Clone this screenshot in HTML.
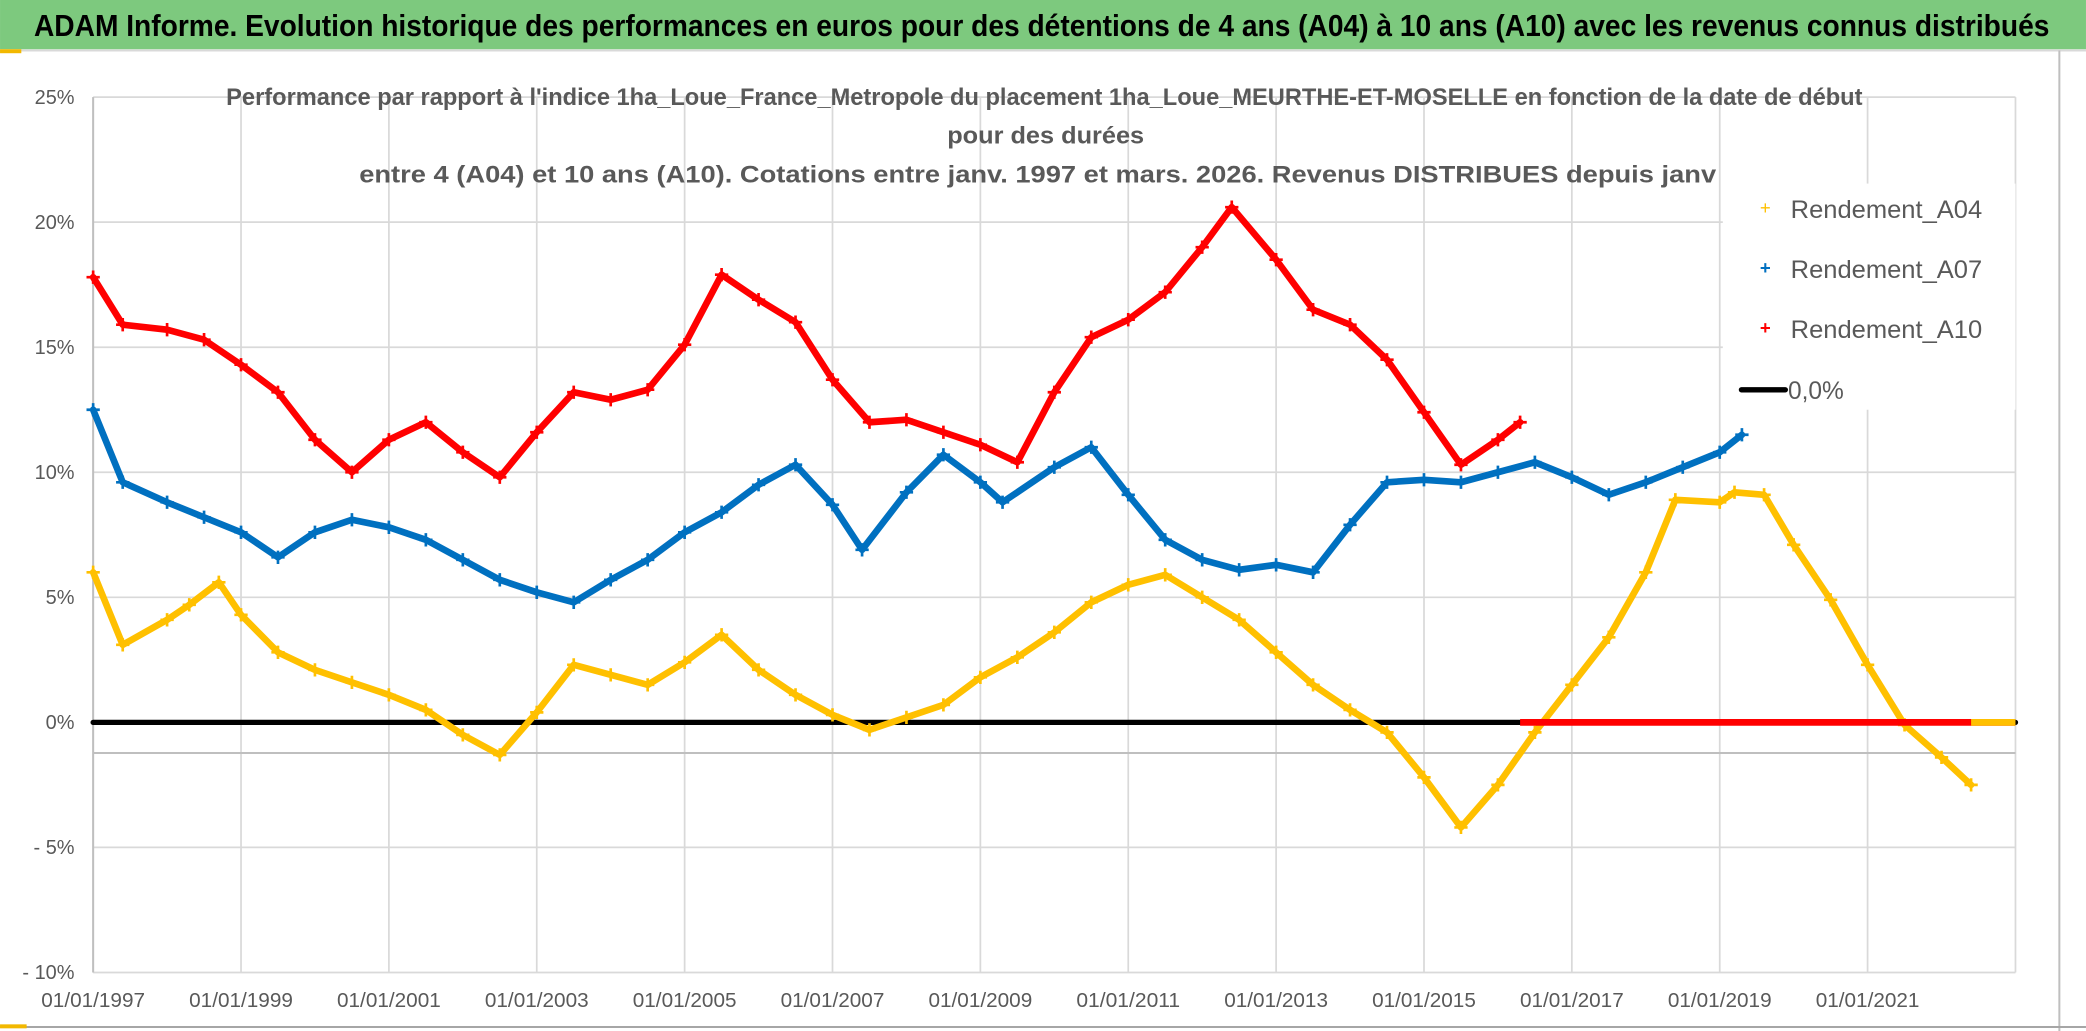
<!DOCTYPE html>
<html><head><meta charset="utf-8"><style>
html,body{margin:0;padding:0;background:#fff;width:2086px;height:1031px;overflow:hidden}
svg{display:block}
text{font-family:"Liberation Sans",sans-serif}
</style></head><body>
<svg id="chart" width="2086" height="1031" viewBox="0 0 1568 775" xmlns="http://www.w3.org/2000/svg">
<rect x="0" y="0" width="1568" height="775" fill="#fff"/>
<rect x="0" y="0" width="1568" height="37" fill="#7dc97e"/>
<line x1="0" y1="38" x2="1568" y2="38" stroke="#d9d9d9" stroke-width="1.5"/>
<rect x="0" y="37" width="16" height="3" fill="#f2b800"/>
<text x="783" y="27" text-anchor="middle" font-size="23" font-weight="bold" fill="#000" textLength="1515" lengthAdjust="spacingAndGlyphs">ADAM Informe. Evolution historique des performances en euros pour des détentions de 4 ans (A04) à 10 ans (A10) avec les revenus connus distribués</text>
<line x1="1548" y1="38" x2="1548" y2="775" stroke="#bfbfbf" stroke-width="1.5"/>
<line x1="0" y1="772" x2="1568" y2="772" stroke="#a6a6a6" stroke-width="1.5"/>
<rect x="0" y="770" width="20" height="3" fill="#f2b800"/>
<g id="grid"></g>
<g id="axes"></g>
<g font-size="18" fill="#595959" font-weight="bold" text-anchor="middle">
<text x="785" y="79" textLength="1230" lengthAdjust="spacingAndGlyphs">Performance par rapport à l'indice 1ha_Loue_France_Metropole  du placement 1ha_Loue_MEURTHE-ET-MOSELLE en fonction de la date de début</text>
<text x="786" y="108" textLength="148" lengthAdjust="spacingAndGlyphs">pour des durées</text>
<text x="780" y="137" textLength="1020" lengthAdjust="spacingAndGlyphs">entre 4 (A04) et 10 ans (A10). Cotations entre janv. 1997 et mars. 2026. Revenus DISTRIBUES depuis janv</text>
</g>
<g id="series"></g>
<g>
<rect x="1295" y="138" width="220" height="170" fill="#fff"/>
<text x="1327" y="161" font-size="14" fill="#ffc000" text-anchor="middle">+</text>
<text x="1346" y="164" font-size="19" fill="#595959" textLength="144" lengthAdjust="spacingAndGlyphs">Rendement_A04</text>
<text x="1327" y="206" font-size="14" fill="#0070c0" text-anchor="middle" font-weight="bold">+</text>
<text x="1346" y="209" font-size="19" fill="#595959" textLength="144" lengthAdjust="spacingAndGlyphs">Rendement_A07</text>
<text x="1327" y="251" font-size="14" fill="#ff0000" text-anchor="middle" font-weight="bold">+</text>
<text x="1346" y="254" font-size="19" fill="#595959" textLength="144" lengthAdjust="spacingAndGlyphs">Rendement_A10</text>
<line x1="1309" y1="293" x2="1342" y2="293" stroke="#000" stroke-width="4" stroke-linecap="round"/>
<text x="1344" y="300" font-size="19" fill="#595959" textLength="42" lengthAdjust="spacingAndGlyphs">0,0%</text>
</g>
</svg>
<script>
const yTicks=[25,20,15,10,5,0,-5,-10];
const yTickLabels=["25%","20%","15%","10%","5%","0%","- 5%","- 10%"];
const xTicks=[1997,1999,2001,2003,2005,2007,2009,2011,2013,2015,2017,2019,2021];
const xTickLabels=["01/01/1997","01/01/1999","01/01/2001","01/01/2003","01/01/2005","01/01/2007","01/01/2009","01/01/2011","01/01/2013","01/01/2015","01/01/2017","01/01/2019","01/01/2021"];
const a04Dates=[1997.0,1997.4,1998.0,1998.3,1998.7,1999.0,1999.5,2000.0,2000.5,2001.0,2001.5,2002.0,2002.5,2003.0,2003.5,2004.0,2004.5,2005.0,2005.5,2006.0,2006.5,2007.0,2007.5,2008.0,2008.5,2009.0,2009.5,2010.0,2010.5,2011.0,2011.5,2012.0,2012.5,2013.0,2013.5,2014.0,2014.5,2015.0,2015.5,2016.0,2016.5,2017.0,2017.5,2018.0,2018.4,2019.0,2019.2,2019.6,2020.0,2020.5,2021.0,2021.5,2022.0,2022.4];
const a04Values=[6.0,3.1,4.1,4.7,5.6,4.3,2.8,2.1,1.6,1.1,0.5,-0.5,-1.3,0.4,2.3,1.9,1.5,2.4,3.5,2.1,1.1,0.3,-0.3,0.2,0.7,1.8,2.6,3.6,4.8,5.5,5.9,5.0,4.1,2.8,1.5,0.5,-0.4,-2.2,-4.2,-2.5,-0.4,1.5,3.4,6.0,8.9,8.8,9.2,9.1,7.1,4.9,2.3,-0.1,-1.4,-2.5];
const a07Dates=[1997.0,1997.4,1998.0,1998.5,1999.0,1999.5,2000.0,2000.5,2001.0,2001.5,2002.0,2002.5,2003.0,2003.5,2004.0,2004.5,2005.0,2005.5,2006.0,2006.5,2007.0,2007.4,2008.0,2008.5,2009.0,2009.3,2010.0,2010.5,2011.0,2011.5,2012.0,2012.5,2013.0,2013.5,2014.0,2014.5,2015.0,2015.5,2016.0,2016.5,2017.0,2017.5,2018.0,2018.5,2019.0,2019.3];
const a07Values=[12.5,9.6,8.8,8.2,7.6,6.6,7.6,8.1,7.8,7.3,6.5,5.7,5.2,4.8,5.7,6.5,7.6,8.4,9.5,10.3,8.7,6.9,9.2,10.7,9.6,8.8,10.2,11.0,9.1,7.3,6.5,6.1,6.3,6.0,7.9,9.6,9.7,9.6,10.0,10.4,9.8,9.1,9.6,10.2,10.8,11.5];
const a10Dates=[1997.0,1997.4,1998.0,1998.5,1999.0,1999.5,2000.0,2000.5,2001.0,2001.5,2002.0,2002.5,2003.0,2003.5,2004.0,2004.5,2005.0,2005.5,2006.0,2006.5,2007.0,2007.5,2008.0,2008.5,2009.0,2009.5,2010.0,2010.5,2011.0,2011.5,2012.0,2012.4,2013.0,2013.5,2014.0,2014.5,2015.0,2015.5,2016.0,2016.3];
const a10Values=[17.8,15.9,15.7,15.3,14.3,13.2,11.3,10.0,11.3,12.0,10.8,9.8,11.6,13.2,12.9,13.3,15.1,17.9,16.9,16.0,13.7,12.0,12.1,11.6,11.1,10.4,13.2,15.4,16.1,17.2,19.0,20.6,18.5,16.5,15.9,14.5,12.4,10.3,11.3,12.0];
const a10ZeroRange=[2016.3,2023.0];
const a04ZeroRange=[2022.4,2023.0];

const NS="http://www.w3.org/2000/svg";
const X0=70,X1=1515,Y0=73,Y1=731,YMIN=-10,YMAX=25,XMIN=1997,XMAX=2023;
function xs(d){return X0+(d-XMIN)/(XMAX-XMIN)*(X1-X0);}
function ys(v){return Y1-(v-YMIN)/(YMAX-YMIN)*(Y1-Y0);}
function mk(tag,attrs,parent){const e=document.createElementNS(NS,tag);for(const k in attrs)e.setAttribute(k,attrs[k]);parent.appendChild(e);return e;}
const grid=document.getElementById('grid'),axes=document.getElementById('axes'),ser=document.getElementById('series');
yTicks.forEach((t,i)=>{
  const l=mk('line',{x1:X0,x2:X1,y1:ys(t),y2:ys(t),stroke:'#d9d9d9','stroke-width':1.3},grid);
  
  
  const tx=mk('text',{x:56,y:ys(t)+5,'text-anchor':'end','font-size':15,fill:'#595959'},axes);
  tx.textContent=yTickLabels[i];
  
  
});
xTicks.forEach((t,i)=>{
  const l=mk('line',{x1:xs(t),x2:xs(t),y1:Y0,y2:Y1,stroke:'#d9d9d9','stroke-width':1.3},grid);
  
  
  const tx=mk('text',{x:xs(t),y:757,'text-anchor':'middle','font-size':15,fill:'#595959',textLength:78,lengthAdjust:'spacingAndGlyphs'},axes);
  tx.textContent=xTickLabels[i];
  
  
});
mk('line',{x1:X1,x2:X1,y1:Y0,y2:Y1,stroke:'#d9d9d9','stroke-width':1.3},grid);
const va=mk('line',{x1:X0,x2:X0,y1:Y0,y2:Y1,stroke:'#bfbfbf','stroke-width':1.5},axes);


const ha=mk('line',{x1:X0,x2:X1,y1:566,y2:566,stroke:'#bfbfbf','stroke-width':1.5},axes);


const zl=mk('line',{x1:X0,x2:X1,y1:ys(0),y2:ys(0),stroke:'#000','stroke-width':4,'stroke-linecap':'round'},ser);


function series(dates,vals,color,name){
  const g=mk('g',{},ser);
  
  
  const pts=dates.map((d,i)=>xs(d)+','+ys(vals[i])).join(' ');
  mk('polyline',{points:pts,fill:'none',stroke:color,'stroke-width':5,'stroke-linejoin':'round','stroke-linecap':'round'},g);
  dates.forEach((d,i)=>{
    const p=mk('path',{d:`M${xs(d)-5},${ys(vals[i])}h10M${xs(d)},${ys(vals[i])-5}v10`,stroke:color,'stroke-width':2},g);
    
    
  });
}
series(a04Dates,a04Values,'#ffc000','series-a04');
series(a07Dates,a07Values,'#0070c0','series-a07');
series(a10Dates,a10Values,'#ff0000','series-a10');
const rz=mk('line',{x1:xs(a10ZeroRange[0]),x2:xs(a10ZeroRange[1]),y1:ys(0),y2:ys(0),stroke:'#ff0000','stroke-width':5},ser);


const yz=mk('line',{x1:xs(a04ZeroRange[0]),x2:xs(a04ZeroRange[1]),y1:ys(0),y2:ys(0),stroke:'#ffc000','stroke-width':5},ser);


</script>
</body></html>
